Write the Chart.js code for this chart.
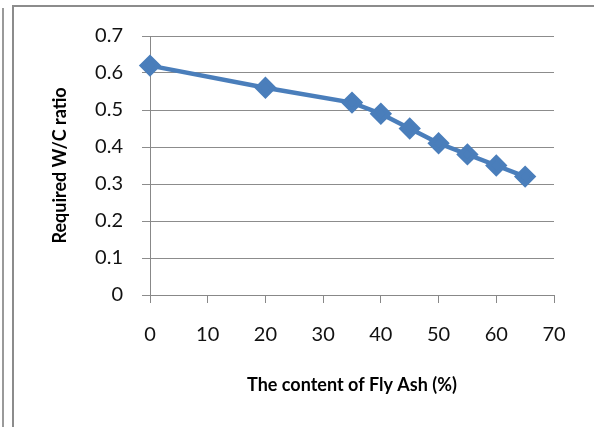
<!DOCTYPE html>
<html lang="en">
<head>
  <meta charset="UTF-8"/>
  <title>Required W/C ratio vs Fly Ash content</title>
  <script src="https://cdn.jsdelivr.net/npm/chart.js"></script>
  <style>
    html, body { margin: 0; padding: 0; background: #fff; }
    #wrap { width: 594px; height: 427px; position: relative; }
  </style>
</head>
<body>
  <div id="wrap"><canvas id="wcChart"></canvas></div>
  <script>
const flyAsh = [0, 20, 35, 40, 45, 50, 55, 60, 65];
const wcRatio = [0.62, 0.56, 0.52, 0.49, 0.45, 0.41, 0.38, 0.35, 0.32];
const xTitle = "The content of Fly Ash (%)";
const yTitle = "Required W/C ratio";

// grey frame lines round the chart (top and left edge of the copied box)
const framePlugin = {
  id: 'frame',
  beforeDraw(chart) {
    const c = chart.ctx;
    c.save();
    c.fillStyle = '#8c8c8c';
    c.fillRect(12, 5, 582, 2);
    c.fillRect(12, 5, 2, 422);
    c.fillStyle = '#9a9a9a';
    c.fillRect(2, 8, 2, 419);
    c.restore();
  }
};

const tickFont = { family: 'Lato, "Open Sans", sans-serif', size: 20 };
const titleFont = { family: 'Lato, "Open Sans", sans-serif', size: 18, weight: 'bold' };

new Chart(document.getElementById('wcChart'), {
  type: 'line',
  data: {
    datasets: [{
      data: flyAsh.map((x, i) => ({ x, y: wcRatio[i] })),
      borderColor: '#4a7ebb',
      backgroundColor: '#4a7ebb',
      borderWidth: 4.5,
      pointStyle: 'rectRot',
      pointRadius: 8,
      pointHoverRadius: 8,
      tension: 0,
      clip: false
    }]
  },
  options: {
    responsive: true,
    maintainAspectRatio: false,
    animation: false,
    layout: { padding: { top: 36, right: 40, left: 0, bottom: 0 } },
    plugins: { legend: { display: false }, tooltip: { enabled: false } },
    scales: {
      x: {
        type: 'linear', min: 0, max: 70,
        afterFit(s) { s.height = 132; },
        ticks: { stepSize: 10, color: '#111', font: tickFont, padding: 20 },
        grid: { drawOnChartArea: false, drawTicks: true, tickLength: 8, color: '#888' },
        border: { color: '#888', width: 1 },
        title: { display: true, text: xTitle, color: '#000', font: titleFont, padding: { top: 0, bottom: 31 } }
      },
      y: {
        min: 0, max: 0.7,
        afterFit(s) { s.width = 150; },
        ticks: {
          stepSize: 0.1, color: '#111', font: tickFont, padding: 19,
          callback: v => v === 0 ? '0' : v.toFixed(1)
        },
        grid: { color: '#8c8c8c', tickLength: 8, lineWidth: 1 },
        border: { color: '#888', width: 1 },
        title: { display: true, text: yTitle, color: '#000', font: titleFont, padding: { top: 49, bottom: 0 } }
      }
    }
  },
  plugins: [framePlugin]
});
  </script>
</body>
</html>
